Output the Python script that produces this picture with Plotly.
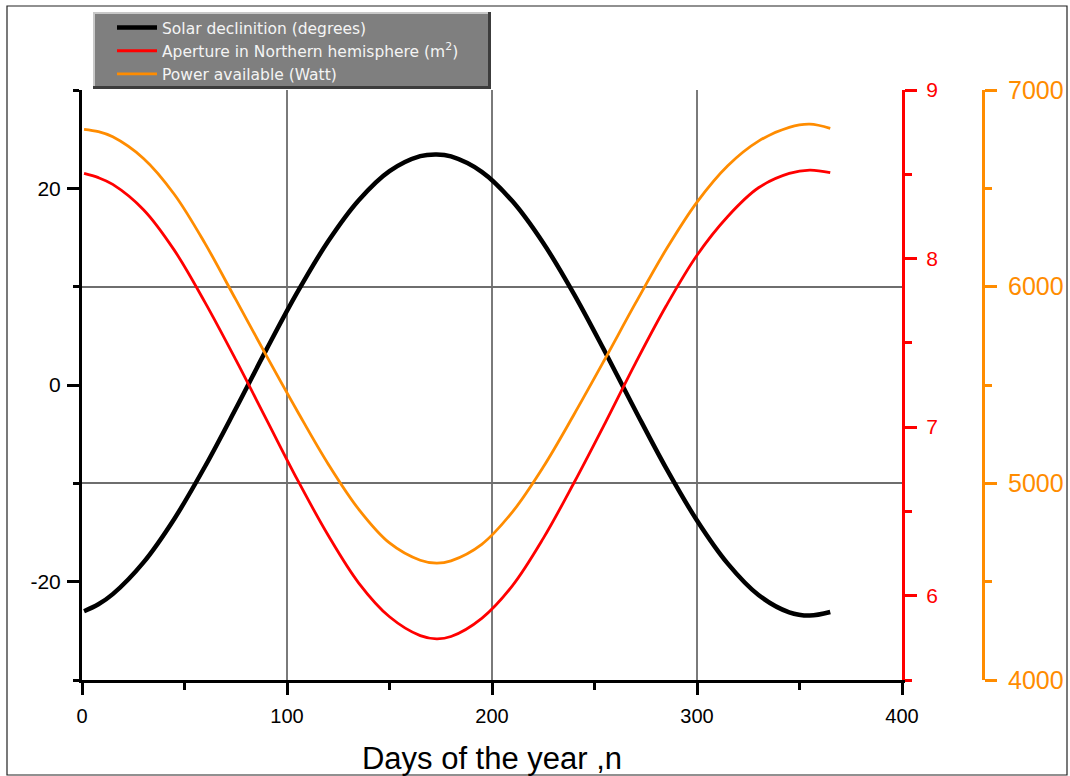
import plotly.graph_objects as go

# Day-of-year nodes
days = [1, 8, 15, 30, 45, 60, 75, 90, 105, 120, 135, 150, 165, 173, 180, 195, 210,
        225, 240, 255, 270, 285, 300, 315, 330, 345, 355, 365]

declination = [-23.01, -22.30, -21.27, -18.04, -13.62, -8.29, -2.42, 3.62, 9.41, 14.59,
               18.79, 21.75, 23.27, 23.45, 23.24, 21.68, 18.68, 14.44, 9.24, 3.43, -2.61,
               -8.48, -13.78, -18.17, -21.36, -23.12, -23.45, -23.09]

aperture = [8.505, 8.48, 8.44, 8.29, 8.05, 7.74, 7.40, 7.045, 6.69, 6.36, 6.075, 5.875,
            5.763, 5.744, 5.758, 5.866, 6.06, 6.34, 6.67, 7.02, 7.38, 7.72, 8.02, 8.25,
            8.42, 8.505, 8.525, 8.51]

power = [6800, 6788, 6762, 6652, 6470, 6220, 5935, 5648, 5368, 5100, 4868, 4697, 4609,
         4594, 4606, 4690, 4855, 5083, 5350, 5630, 5916, 6190, 6430, 6615, 6740, 6810,
         6826, 6805]

names = ["Solar declinition (degrees)",
         "Aperture in Northern hemisphere (m<sup>2</sup>)",
         "Power available (Watt)"]

x_ticks = [0, 100, 200, 300, 400]
y_ticks = [-20, 0, 20]
y_ticktext = ["-20", "0", "20"]

BLACK = "#000000"
RED = "#ff0000"
ORANGE = "#ff8c00"
FONT = "Liberation Sans, Arial, sans-serif"

fig = go.Figure()
fig.add_trace(go.Scatter(x=days, y=declination, mode="lines", name=names[0],
                         line=dict(color=BLACK, width=4.5, shape="spline"), yaxis="y"))
fig.add_trace(go.Scatter(x=days, y=aperture, mode="lines", name=names[1],
                         line=dict(color=RED, width=2.8, shape="spline"), yaxis="y2"))
fig.add_trace(go.Scatter(x=days, y=power, mode="lines", name=names[2],
                         line=dict(color=ORANGE, width=2.8, shape="spline"), yaxis="y3"))

# pixel helpers for the paper frame: plot left 82, paper right 983, top 90, bottom 680
PL, PR, PT, PB = 82, 983, 90, 680
def px(v):
    return (v - PL) / (PR - PL)
def py(v):
    return (PB - v) / (PB - PT)

def prect(x0, y0, x1, y1, fill, layer="above"):
    return dict(type="rect", xref="paper", yref="paper", x0=px(x0), x1=px(x1),
                y0=py(y1), y1=py(y0), fillcolor=fill, line=dict(width=0), layer=layer)

fig.update_layout(
    width=1070, height=776,
    margin=dict(l=PL, r=1070 - PR, t=PT, b=776 - PB, autoexpand=False),
    paper_bgcolor="white", plot_bgcolor="white",
    font=dict(family=FONT, size=19, color="black"),
    showlegend=True,
    legend=dict(x=px(112), y=py(11), xanchor="left", yanchor="top",
                bgcolor="rgba(0,0,0,0)", borderwidth=0,
                font=dict(family="DejaVu Sans, sans-serif", size=15.5, color="#f4f4f4"),
                itemwidth=40, tracegroupgap=0),
    xaxis=dict(domain=[0, (902 - PL) / (PR - PL)], range=[0, 400], automargin=False,
               tickvals=x_ticks, ticks="outside", ticklen=12, tickwidth=2.5,
               tickcolor=BLACK, showline=True, linecolor=BLACK, linewidth=3,
               showgrid=True, gridcolor="#7a7a7a", gridwidth=1.5, zeroline=False,
               minor=dict(dtick=50, tick0=0, ticks="outside", ticklen=7, tickwidth=2.5,
                          tickcolor=BLACK, showgrid=False),
               ticklabelstandoff=4,
               tickfont=dict(size=20, color=BLACK),
               title=dict(text="Days of the year ,n", font=dict(size=31, color=BLACK),
                          standoff=24)),
    yaxis=dict(range=[-30, 30], tickmode="array", tickvals=y_ticks, ticktext=y_ticktext,
               automargin=False, ticks="outside", ticklen=12,
               tickwidth=2.5, tickcolor=BLACK, showline=True, linecolor=BLACK,
               linewidth=3, showgrid=False, zeroline=False,
               minor=dict(dtick=10, tick0=0, ticks="outside", ticklen=6, tickwidth=2.5,
                          tickcolor=BLACK, showgrid=False),
               ticklabelstandoff=2,
               tickfont=dict(size=21, color=BLACK)),
    yaxis2=dict(range=[5.5, 9], dtick=1, tick0=6, overlaying="y", side="right",
                anchor="x", automargin=False, ticks="outside", ticklen=12,
                tickwidth=2.5, tickcolor=RED,
                showline=True, linecolor=RED, linewidth=3, showgrid=False,
                zeroline=False,
                minor=dict(dtick=0.5, tick0=5.5, ticks="outside", ticklen=7,
                           tickwidth=2.5, tickcolor=RED, showgrid=False),
                ticklabelstandoff=5,
                tickfont=dict(size=21, color=RED)),
    yaxis3=dict(range=[4000, 7000], dtick=1000, tick0=4000, overlaying="y",
                side="right", anchor="free", position=1.0, automargin=False,
                ticks="outside",
                ticklen=12, tickwidth=2.5, tickcolor=ORANGE, showline=True,
                linecolor=ORANGE, linewidth=3, showgrid=True, gridcolor="#6e6e6e",
                gridwidth=1.5, zeroline=False,
                minor=dict(dtick=500, tick0=4000, ticks="outside", ticklen=7,
                           tickwidth=2.5, tickcolor=ORANGE, showgrid=False),
                ticklabelstandoff=6,
                tickfont=dict(size=25, color=ORANGE)),
    shapes=[
        # outer frame of the picture
        dict(type="rect", xref="paper", yref="paper", x0=px(7), x1=px(1067),
             y0=py(775), y1=py(6), line=dict(color="#222222", width=1.2),
             layer="below"),
        # bevelled legend box
        prect(93, 12, 491, 89, "#3c3c3c"),
        prect(93, 12, 488, 86, "#c8c8c8"),
        prect(95, 14, 488, 86, "#7f7f7f"),
    ],
)

fig.write_html("out.html")
